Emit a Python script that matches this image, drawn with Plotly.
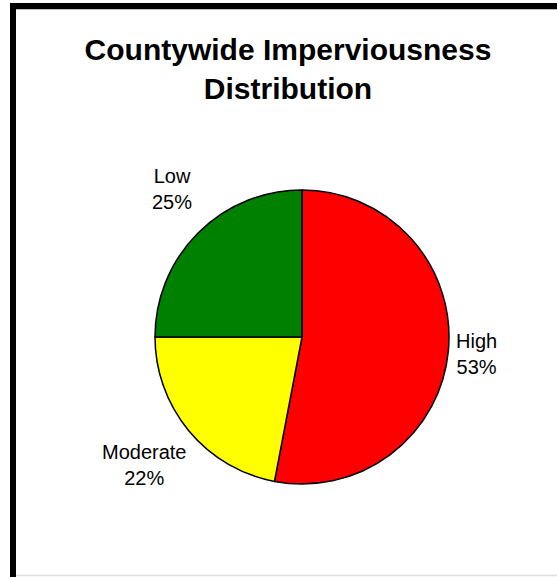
import plotly.graph_objects as go

categories = ["High", "Moderate", "Low"]
values = [53, 22, 25]
colors = ["#FF0000", "#FFFF00", "#008000"]
label_pos = {"High": (0.856, 0.3865), "Moderate": (0.2603, 0.194), "Low": (0.3088, 0.6724)}

W, H = 557, 577
fig = go.Figure()
fig.add_trace(go.Pie(
    labels=categories, values=values, sort=False, direction="clockwise", rotation=0,
    marker=dict(colors=colors, line=dict(color="black", width=1.5)),
    textinfo="none", hoverinfo="label+percent", showlegend=False,
    domain=dict(x=[155 / W, 449 / W], y=[1 - 484 / H, 1 - 190 / H]),
))

total = sum(values)
for c, v in zip(categories, values):
    x, y = label_pos[c]
    fig.add_annotation(x=x, y=y, xref="paper", yref="paper", showarrow=False,
                       text=f"{c}<br>{round(100 * v / total)}%",
                       font=dict(family="Liberation Sans, Arial", size=20, color="black"),
                       align="center", xanchor="center", yanchor="middle")

# frame
fig.add_shape(type="line", xref="paper", yref="paper", x0=10 / W, x1=1.02, y0=1 - 6 / H, y1=1 - 6 / H,
              line=dict(color="black", width=6))
fig.add_shape(type="line", xref="paper", yref="paper", x0=13 / W, x1=13 / W, y0=1 - 3 / H, y1=-0.02,
              line=dict(color="black", width=6))
fig.add_shape(type="line", xref="paper", yref="paper", x0=16 / W, x1=1.02, y0=1 - 9.5 / H, y1=1 - 9.5 / H,
              line=dict(color="#BBBBBB", width=1))
fig.add_shape(type="line", xref="paper", yref="paper", x0=16 / W, x1=1.02, y0=1 - 575.5 / H, y1=1 - 575.5 / H,
              line=dict(color="#DDDDDD", width=1.5))

fig.update_layout(
    width=W, height=H, margin=dict(l=0, r=0, t=0, b=0),
    paper_bgcolor="white", plot_bgcolor="white",
    title=dict(text="<b>Countywide Imperviousness<br>Distribution</b>",
               x=288 / W, xanchor="center", y=1 - 60 / H, yanchor="middle", yref="container",
               font=dict(family="Liberation Sans, Arial", size=30, color="black")),
)
fig.write_html("out.html", config={"displayModeBar": False},
               post_script="document.body.style.margin='0';")
